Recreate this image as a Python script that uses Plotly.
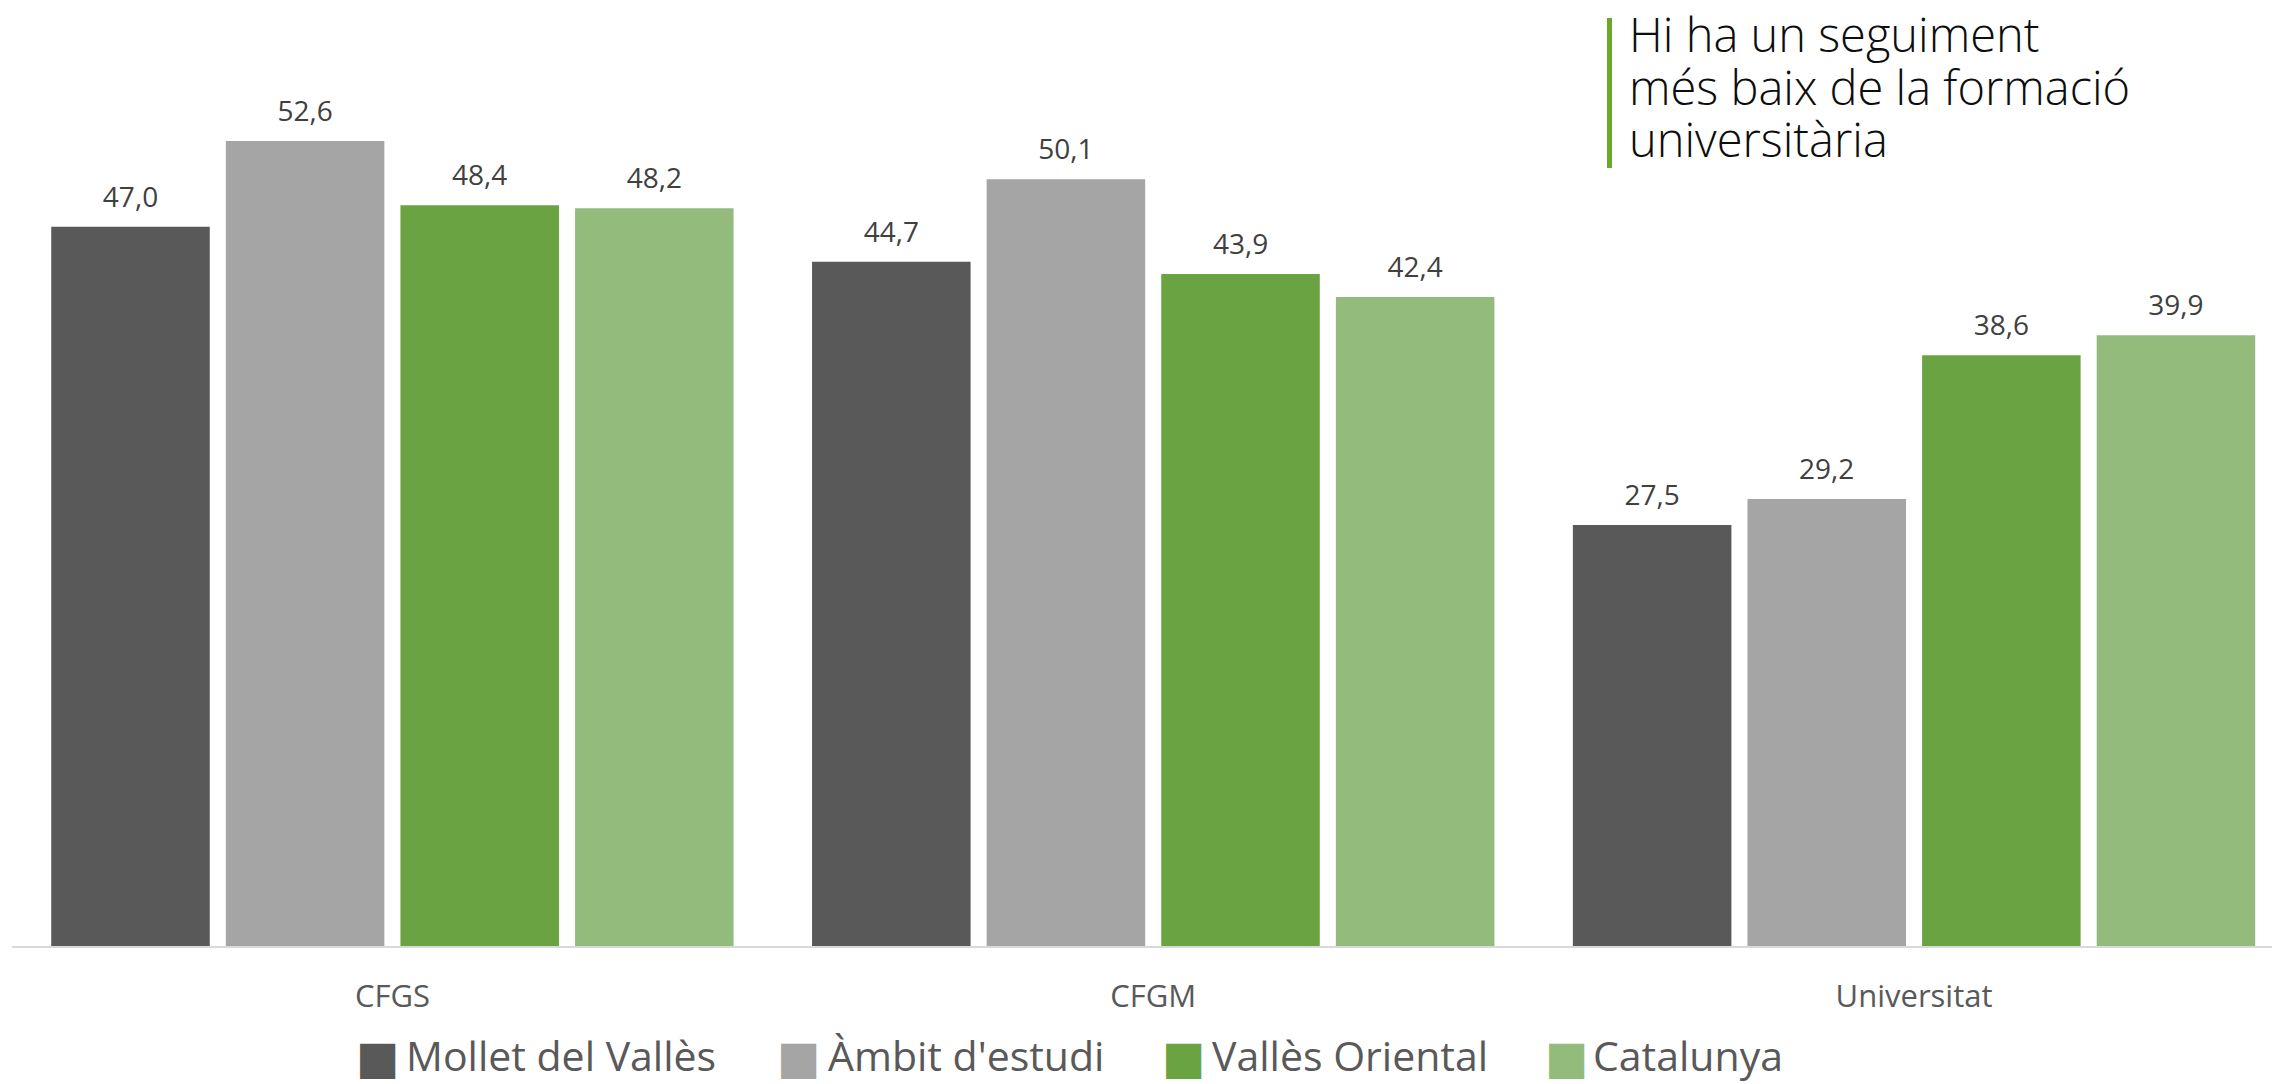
import plotly.graph_objects as go

categories = ["CFGS", "CFGM", "Universitat"]
series_names = ["Mollet del Vallès", "Àmbit d'estudi", "Vallès Oriental", "Catalunya"]
mollet = [47.0, 44.7, 27.5]
ambit = [52.6, 50.1, 29.2]
valles = [48.4, 43.9, 38.6]
catalunya = [48.2, 42.4, 39.9]
series_values = [mollet, ambit, valles, catalunya]
colors = ["#595959", "#A5A5A5", "#6AA342", "#93BB7C"]

note_lines = ["Hi ha un seguiment", "més baix de la formació", "universitària"]

FONT = "Open Sans"
OFF = 8  # page body margin offset
W, H = 2280 - OFF, 1084 - OFF
ML, MR, MT, MB = 12 - OFF, 0, 0, 138
PW, PH = W - ML - MR, H - MT - MB
YMAX = (946 - OFF) / 15.305
BARGAP = 0.082

fig = go.Figure()
for name, vals, col in zip(series_names, series_values, colors):
    fig.add_trace(go.Bar(
        x=categories, y=vals, name=name,
        marker=dict(color=col, line=dict(width=0)),
        showlegend=False, hoverinfo="x+y+name",
    ))
# value labels, grouped the same way as the bars
for name, vals in zip(series_names, series_values):
    fig.add_trace(go.Scatter(
        x=categories, y=vals, name=name, mode="markers+text",
        marker=dict(size=19, color="rgba(0,0,0,0)"),
        text=[f"{v:.1f}".replace(".", ",") for v in vals],
        textposition="top center",
        textfont=dict(family=FONT, size=28, color="#404040"),
        cliponaxis=False, showlegend=False, hoverinfo="skip",
    ))

def px_x(p):
    return (p - OFF - ML) / PW

def px_y(p):
    return (H - MB - (p - OFF)) / PH

annotations = []
sq_centers = [377, 798, 1183, 1566]
txt_lefts = [404, 826, 1210, 1591]
leg_y = 1055
for name, col, sc, tl in zip(series_names, colors, sq_centers, txt_lefts):
    annotations.append(dict(
        x=px_x(sc), y=px_y(leg_y + 2), xref="paper", yref="paper",
        xanchor="center", yanchor="middle", showarrow=False,
        text="■", font=dict(family="DejaVu Sans", size=46, color=col),
    ))
    annotations.append(dict(
        x=px_x(tl), y=px_y(leg_y), xref="paper", yref="paper",
        xanchor="left", yanchor="middle", showarrow=False,
        text=name, font=dict(family=FONT, size=41, color="#595959"),
    ))

for line, cy in zip(note_lines, [34, 87, 139]):
    annotations.append(dict(
        x=px_x(1627), y=px_y(cy), xref="paper", yref="paper",
        xanchor="left", yanchor="middle", showarrow=False, align="left",
        text=line,
        font=dict(family=FONT, size=47, color="#0D0D0D", weight=300),
    ))

shapes = [dict(
    type="line", xref="paper", yref="paper",
    x0=px_x(1609.5), x1=px_x(1609.5), y0=px_y(18), y1=px_y(168),
    line=dict(color="#6BA82A", width=5),
)]

fig.update_layout(
    width=W, height=H, autosize=False,
    margin=dict(l=ML, r=MR, t=MT, b=MB, pad=0),
    paper_bgcolor="white", plot_bgcolor="white",
    barmode="group", bargap=BARGAP, bargroupgap=0.092,
    scattermode="group", scattergap=BARGAP,
    separators=",.",
    font=dict(family=FONT, color="#595959"),
    annotations=annotations, shapes=shapes,
    showlegend=False,
)
fig.update_xaxes(
    range=[-0.5, 2.481], showgrid=False, zeroline=False,
    showline=True, linecolor="#D9D9D9", linewidth=2,
    ticks="", tickfont=dict(family=FONT, size=31, color="#595959"),
    ticklabelstandoff=22,
)
fig.update_yaxes(
    range=[0, YMAX], showgrid=False, zeroline=False, showline=False,
    showticklabels=False, ticks="",
)

fig.write_html("out.html")
